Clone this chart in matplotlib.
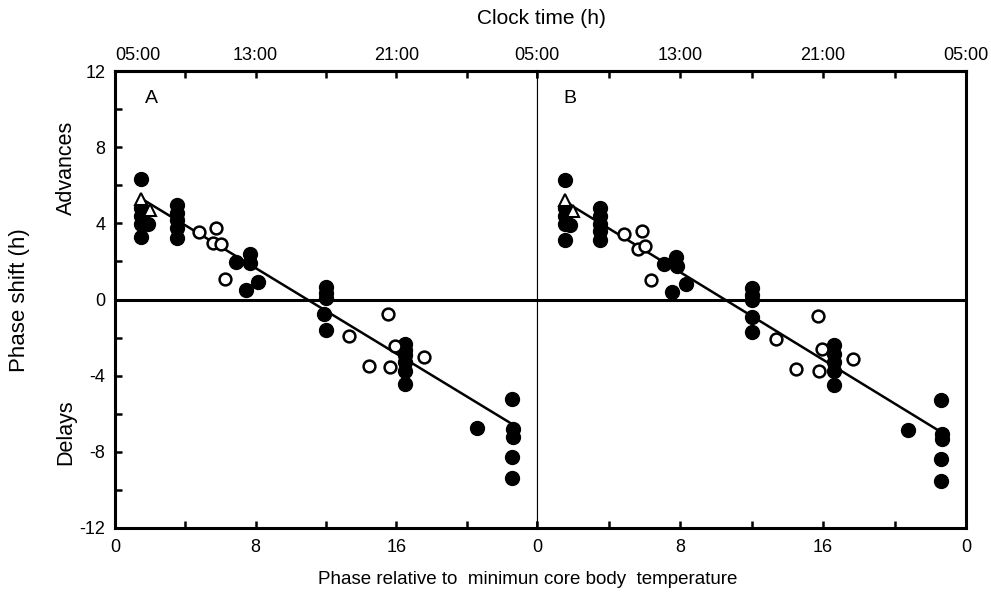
import numpy as np
import matplotlib.pyplot as plt

plt.rcParams['font.family'] = ['Liberation Sans', 'DejaVu Sans']

# panel A
a_fill_x = [1.5, 1.5, 1.5, 1.5, 1.85, 1.5, 3.5, 3.5, 3.5, 3.5, 3.5,
            6.9, 7.65, 7.7, 7.45, 8.15, 12.0, 12.0, 12.0, 11.9, 12.0,
            16.5, 16.5, 16.5, 16.5, 16.5, 16.5, 20.6, 22.6, 22.65, 22.65, 22.6, 22.6]
a_fill_y = [6.35, 4.8, 4.4, 3.95, 3.95, 3.3, 4.95, 4.55, 4.2, 3.75, 3.25,
            1.95, 2.4, 1.9, 0.5, 0.9, 0.65, 0.35, 0.1, -0.75, -1.6,
            -2.35, -2.65, -2.9, -3.3, -3.75, -4.45, -6.75, -5.2, -6.8, -7.2, -8.25, -9.35]
a_open_x = [4.8, 5.75, 5.6, 6.0, 6.25, 13.3, 14.45, 15.55, 15.65, 15.95, 17.55]
a_open_y = [3.55, 3.75, 2.95, 2.9, 1.1, -1.9, -3.5, -0.75, -3.55, -2.45, -3.0]
a_tri_x = [1.5, 2.0]
a_tri_y = [5.3, 4.7]
a_line_x = [1.5, 22.6]
a_line_y = [5.3, -6.55]

# panel B
b_fill_x = [1.55, 1.55, 1.55, 1.55, 1.85, 1.55, 3.55, 3.55, 3.55, 3.55, 3.55,
            7.1, 7.75, 7.85, 7.55, 8.35, 12.0, 12.0, 12.0, 12.05, 12.0,
            16.6, 16.6, 16.6, 16.6, 16.6, 20.75, 22.6, 22.65, 22.65, 22.6, 22.6]
b_fill_y = [6.25, 4.8, 4.4, 3.95, 3.9, 3.15, 4.8, 4.4, 3.95, 3.6, 3.15,
            1.85, 2.25, 1.75, 0.4, 0.8, 0.6, 0.25, -0.05, -0.9, -1.7,
            -2.4, -2.85, -3.3, -3.75, -4.5, -6.85, -5.3, -7.05, -7.35, -8.4, -9.55]
b_open_x = [4.85, 5.85, 5.65, 6.05, 6.35, 13.35, 14.5, 15.7, 15.8, 15.95, 17.7]
b_open_y = [3.45, 3.6, 2.65, 2.8, 1.0, -2.05, -3.65, -0.85, -3.75, -2.6, -3.1]
b_tri_x = [1.55, 2.0]
b_tri_y = [5.2, 4.65]
b_line_x = [1.55, 22.5]
b_line_y = [5.15, -6.9]

W, H = 991, 598
fig = plt.figure(figsize=(W / 100, H / 100), dpi=100)
x0, xm, x1 = 115, 537, 966
ytop, ybot = 71, 528
axA = fig.add_axes([x0 / W, 1 - ybot / H, (xm - x0) / W, (ybot - ytop) / H])
axB = fig.add_axes([xm / W, 1 - ybot / H, (x1 - xm) / W, (ybot - ytop) / H])

panels = [
    (axA, a_fill_x, a_fill_y, a_open_x, a_open_y, a_tri_x, a_tri_y, a_line_x, a_line_y, 'A'),
    (axB, b_fill_x, b_fill_y, b_open_x, b_open_y, b_tri_x, b_tri_y, b_line_x, b_line_y, 'B'),
]

secs = []
for ax, fx, fy, ox, oy, tx, ty, lx, ly, name in panels:
    ax.set_xlim(0, 24)
    ax.set_ylim(-12, 12)
    ax.axhline(0, color='black', lw=2.2, zorder=1)
    ax.plot(lx, ly, color='black', lw=1.8, zorder=2)
    ax.plot(fx, fy, 'o', color='black', ms=10, zorder=3)
    ax.plot(ox, oy, 'o', mfc='white', mec='black', mew=1.8, ms=8.5, zorder=4)
    ax.plot(tx, ty, '^', mfc='white', mec='black', mew=1.5, ms=8, zorder=5)
    ax.text(0.07 if name == 'A' else 0.062, 0.94, name, transform=ax.transAxes,
            fontsize=14, ha='left', va='center')
    for s in ax.spines.values():
        s.set_linewidth(2.2)
    ax.set_xticks([0, 4, 8, 12, 16, 20, 24])
    ax.tick_params(axis='x', direction='in', length=5, width=1.8, labelsize=13, pad=8)
    top = ax.secondary_xaxis('top')
    top.set_xticks([0, 4, 8, 12, 16, 20, 24])
    top.tick_params(direction='in', length=5, width=1.8, labelsize=13, pad=5)
    top.spines['top'].set_linewidth(2.2)
    secs.append(top)

axA.set_xticklabels(['0', '', '8', '', '16', '', '0'])
axB.set_xticklabels(['', '', '8', '', '16', '', '0'])

axA.set_yticks(np.arange(-12, 13, 2))
axA.set_yticklabels([str(v) if v % 4 == 0 else '' for v in range(-12, 13, 2)])
axA.tick_params(axis='y', direction='in', length=5, width=1.8, labelsize=13, pad=7)
axA.spines['right'].set_linewidth(0.8)
axB.spines['left'].set_linewidth(0.8)
axB.set_yticks([])

# top clock labels
secA, secB = secs
secA.set_xticklabels(['05:00', '', '13:00', '', '21:00', '', '05:00'])
secB.set_xticklabels(['', '', '13:00', '', '21:00', '', '05:00'])
secA.get_xticklabels()[0].set_ha('left')

fig.text(541 / W, 1 - 18 / H, 'Clock time (h)', ha='center', va='center', fontsize=15)
fig.text(528 / W, 1 - 580 / H, 'Phase relative to  minimun core body  temperature',
         ha='center', va='center', fontsize=13.5)
fig.text(20 / W, 1 - 300 / H, 'Phase shift (h)', rotation=90, ha='center', va='center', fontsize=16)
fig.text(66 / W, 1 - 168 / H, 'Advances', rotation=90, ha='center', va='center', fontsize=15.5)
fig.text(66 / W, 1 - 432 / H, 'Delays', rotation=90, ha='center', va='center', fontsize=15.5)

fig.savefig('out.png', dpi=100)
